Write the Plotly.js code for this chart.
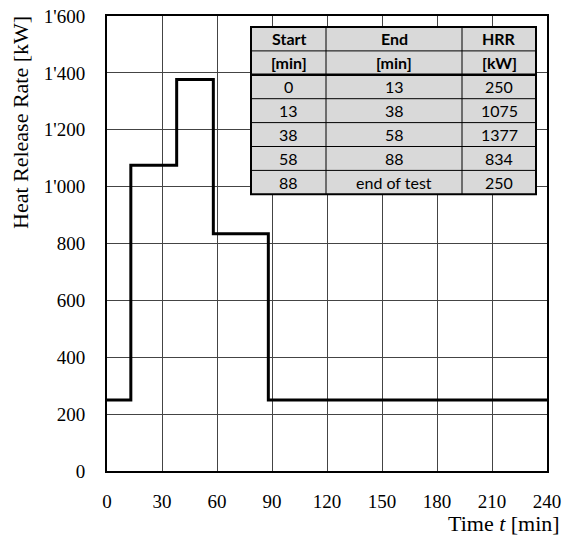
<!DOCTYPE html>
<html><head><meta charset="utf-8">
<script src="https://cdn.plot.ly/plotly-3.0.1.min.js"></script>
<style>body{margin:0;background:#fff}#c{width:569px;height:536px}</style>
</head><body><div id="c"></div>
<script>
const stepTimes = [0, 13, 38, 58, 88, 240];
const stepHRR = [250, 1075, 1377, 834, 250, 250];
const headers = ['Start', 'End', 'HRR'];
const units = ['[min]', '[min]', '[kW]'];
const colStart = ['0', '13', '38', '58', '88'];
const colEnd = ['13', '38', '58', '88', 'end of test'];
const colHRR = ['250', '1075', '1377', '834', '250'];

const L = 107, R = 547, T = 16, B = 471, W = 569, H = 536;
const px = x => (x - L) / (R - L);
const py = y => (B - y) / (B - T);

// table geometry (pixels)
const tabX = [251, 326, 462, 536];
const tabTop = 27, rowH = 23.9;
const rows = [headers.map(h => '<b>' + h + '</b>'), units.map(u => '<b>' + u + '</b>')];
for (let i = 0; i < colStart.length; i++) rows.push([colStart[i], colEnd[i], colHRR[i]]);
const nRows = rows.length;
const tabBot = tabTop + rowH * nRows;

const shapes = [
  {type: 'rect', xref: 'paper', yref: 'paper', x0: px(tabX[0]), x1: px(tabX[3]), y0: py(tabBot), y1: py(tabTop),
   fillcolor: '#d9d9d9', line: {color: '#000', width: 2}, layer: 'above'}
];
for (let r = 1; r < nRows; r++) {
  const y = tabTop + rowH * r;
  shapes.push({type: 'line', xref: 'paper', yref: 'paper', x0: px(tabX[0]), x1: px(tabX[3]), y0: py(y), y1: py(y),
               line: {color: '#000', width: r === 2 ? 2.5 : 1}, layer: 'above'});
}
for (let c = 1; c < 3; c++) {
  shapes.push({type: 'line', xref: 'paper', yref: 'paper', x0: px(tabX[c]), x1: px(tabX[c]), y0: py(tabBot), y1: py(tabTop),
               line: {color: '#000', width: 1}, layer: 'above'});
}
const annotations = [
  {xref: 'paper', yref: 'paper', x: px(562), y: py(523), xanchor: 'right', yanchor: 'middle', showarrow: false,
   text: 'Time <i>t</i> [min]', font: {size: 22}},
  {xref: 'paper', yref: 'paper', x: px(20), y: py(123), xanchor: 'center', yanchor: 'middle', showarrow: false,
   textangle: -90, text: 'Heat Release Rate [kW]', font: {size: 22}}
];
rows.forEach((row, r) => row.forEach((txt, c) => {
  annotations.push({xref: 'paper', yref: 'paper', x: px((tabX[c] + tabX[c + 1]) / 2), y: py(tabTop + rowH * (r + 0.5)),
    xanchor: 'center', yanchor: 'middle', showarrow: false, text: txt,
    font: {family: 'Lato, "Open Sans", sans-serif', size: 16, color: '#000'}});
}));

const traces = [
  {type: 'scatter', mode: 'lines', x: stepTimes, y: stepHRR, line: {shape: 'hv', color: '#000', width: 3}, hoverinfo: 'skip'}
];

const layout = {
  width: W, height: H, showlegend: false,
  margin: {l: L, r: W - R, t: T, b: H - B},
  paper_bgcolor: '#fff', plot_bgcolor: '#fff',
  separators: ".'",
  font: {family: '"Liberation Serif", "Times New Roman", serif', size: 19, color: '#000'},
  xaxis: {range: [0, 240], dtick: 30, tick0: 0, showgrid: true, gridcolor: '#444', gridwidth: 1,
          zeroline: false, showline: true, linecolor: '#000', linewidth: 2, mirror: true,
          ticks: '', ticklabelstandoff: 12, tickfont: {size: 19}},
  yaxis: {range: [0, 1600], dtick: 200, tick0: 0, showgrid: true, gridcolor: '#444', gridwidth: 1,
          zeroline: false, showline: true, linecolor: '#000', linewidth: 2, mirror: true,
          ticks: '', ticklabelstandoff: 16, separatethousands: true, tickformat: ',d', tickfont: {size: 19}},
  shapes: shapes,
  annotations: annotations
};
Plotly.newPlot('c', traces, layout, {displayModeBar: false, staticPlot: true});
</script></body></html>
